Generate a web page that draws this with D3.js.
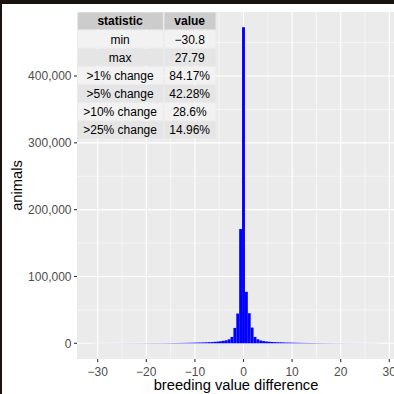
<!DOCTYPE html>
<html><head><meta charset="utf-8">
<script src="https://cdn.jsdelivr.net/npm/d3@7"></script>
<style>
html,body{margin:0;padding:0;background:#fff;}
svg{display:block;font-family:"Liberation Sans",Arial,Helvetica,sans-serif;}
</style></head>
<body>
<svg id="chart" width="394" height="394"></svg>
<script>
// ---- data ----
const statMin = -30.8;
const statMax = 27.79;
const nBins = 100;
// histogram counts, bins k = -52 .. 47 (centered on multiples of bin width)
const countsLeft = [60,65,70,75,80,85,90,95,100,110,120,130,140,150,160,170,180,190,200,215,230,245,
  260,280,300,330,360,400,450,500,550,610,680,760,850,950,1050,1200,1350,1500,1700,1900,2200,2500,
  3000,3700,4500,6000,9500,23000,44500,171000,473000];
const countsRight = [77000,45000,23500,9500,6000,4200,3300,2700,2300,2000,1800,1600,1450,1300,1150,1050,
  950,850,760,680,600,540,480,430,390,350,320,290,260,240,220,200,185,170,155,145,135,125,115,105,100,
  95,90,85,80,75,70];
const counts = countsLeft.concat(countsRight);
const xTicks = [-30,-20,-10,0,10,20,30];
const xMinor = [-25,-15,-5,5,15,25];
const yTicks = [0,100000,200000,300000,400000];
const yMinor = [50000,150000,250000,350000,450000];
const tableHeader = ["statistic","value"];
const tableStats = ["min","max",">1% change",">5% change",">10% change",">25% change"];
const tableValues = ["\u221230.8","27.79","84.17%","42.28%","28.6%","14.96%"];

// ---- layout ----
const svg = d3.select("#chart");
const P = {left:77, right:397, top:12, bottom:359};
const x = d3.scaleLinear().domain([-30,30]).range([97.7,389.3]);
const y = d3.scaleLinear().domain([0,400000]).range([343.3,76.0]);

// frame artifacts of the screenshot
svg.append("rect").attr("x",0).attr("y",0).attr("width",394).attr("height",394).attr("fill","#fff");

// panel
svg.append("rect").attr("x",P.left).attr("y",P.top).attr("width",P.right-P.left).attr("height",P.bottom-P.top).attr("fill","#ebebeb");
const g = svg.append("g");
g.selectAll(".xmin").data(xMinor).join("line")
  .attr("x1",d=>x(d)).attr("x2",d=>x(d)).attr("y1",P.top).attr("y2",P.bottom)
  .attr("stroke","#fff").attr("stroke-width",0.55);
g.selectAll(".ymin").data(yMinor).join("line")
  .attr("y1",d=>y(d)).attr("y2",d=>y(d)).attr("x1",P.left).attr("x2",P.right)
  .attr("stroke","#fff").attr("stroke-width",0.55);
g.selectAll(".xmaj").data(xTicks).join("line")
  .attr("x1",d=>x(d)).attr("x2",d=>x(d)).attr("y1",P.top).attr("y2",P.bottom)
  .attr("stroke","#fff").attr("stroke-width",1.1);
g.selectAll(".ymaj").data(yTicks).join("line")
  .attr("y1",d=>y(d)).attr("y2",d=>y(d)).attr("x1",P.left).attr("x2",P.right)
  .attr("stroke","#fff").attr("stroke-width",1.1);

// histogram bins (ggplot2 style: width = range/(bins-1), centred on multiples of width)
const bw = (statMax - statMin)/(nBins-1);
const kStart = Math.round(statMin/bw);
const bins = counts.map((c,i)=>({x0:(kStart+i-0.5)*bw, x1:(kStart+i+0.5)*bw, n:c}));
g.selectAll(".bar").data(bins).join("rect")
  .attr("x",d=>x(d.x0)).attr("width",d=>x(d.x1)-x(d.x0))
  .attr("y",d=>y(d.n)).attr("height",d=>y(0)-y(d.n))
  .attr("fill","#0000ff");

// axes
const tickCol="#333333", labCol="#4d4d4d";
const xa = svg.append("g");
xa.selectAll("line").data(xTicks).join("line")
  .attr("x1",d=>x(d)).attr("x2",d=>x(d)).attr("y1",P.bottom).attr("y2",P.bottom+3)
  .attr("stroke",tickCol).attr("stroke-width",1.1);
xa.selectAll("text").data(xTicks).join("text")
  .attr("x",d=>x(d)).attr("y",375.5).attr("text-anchor","middle")
  .attr("font-size",12).attr("fill",labCol)
  .text(d=>d<0?"\u2212"+Math.abs(d):String(d));
const ya = svg.append("g");
ya.selectAll("line").data(yTicks).join("line")
  .attr("x1",P.left-3).attr("x2",P.left).attr("y1",d=>y(d)).attr("y2",d=>y(d))
  .attr("stroke",tickCol).attr("stroke-width",1.1);
ya.selectAll("text").data(yTicks).join("text")
  .attr("x",71.5).attr("y",d=>y(d)).attr("dy","0.36em").attr("text-anchor","end")
  .attr("font-size",12).attr("fill",labCol)
  .text(d=>d3.format(",")(d));

svg.append("text").attr("x",236).attr("y",390).attr("text-anchor","middle")
  .attr("font-size",14.7).attr("fill","#000").text("breeding value difference");
svg.append("text").attr("transform","translate(22,185.5) rotate(-90)").attr("text-anchor","middle")
  .attr("font-size",14.7).attr("fill","#000").text("animals");

// table
const T = {left:77.3, top:12, colW:[86.6,52.6], rowH:18.15};
const rows = [tableHeader].concat(tableStats.map((s,i)=>[s,tableValues[i]]));
const tg = svg.append("g");
rows.forEach((r,ri)=>{
  let cx = T.left;
  r.forEach((cell,ci)=>{
    const w = T.colW[ci];
    const fill = ri===0 ? "#cccccc" : (ri%2===1 ? "#f2f2f2" : "#e5e5e5");
    tg.append("rect").attr("x",cx+0.6).attr("y",T.top+ri*T.rowH+0.5)
      .attr("width",w-1.6).attr("height",T.rowH-1.2).attr("fill",fill);
    tg.append("text").attr("x",cx+w/2-0.5).attr("y",T.top+ri*T.rowH+T.rowH/2)
      .attr("dy","0.36em").attr("text-anchor","middle").attr("font-size",12)
      .attr("font-weight",ri===0?"bold":"normal").attr("fill","#000").text(cell);
    cx += w;
  });
});

// dark screenshot border (top and left)
svg.append("rect").attr("x",0).attr("y",0).attr("width",394).attr("height",4).attr("fill","#1a1310");
svg.append("rect").attr("x",0).attr("y",0).attr("width",2).attr("height",394).attr("fill","#1a1310");
</script>
</body></html>
